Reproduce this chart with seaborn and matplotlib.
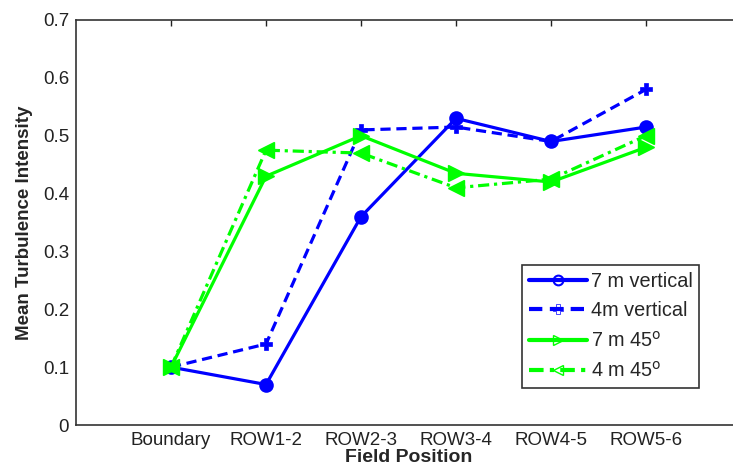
import matplotlib
matplotlib.use("Agg")
import matplotlib.pyplot as plt
import seaborn as sns
import pandas as pd

categories = ["Boundary", "ROW1-2", "ROW2-3", "ROW3-4", "ROW4-5", "ROW5-6"]
series_names = ["7 m vertical", "4m vertical", "7 m 45$^{\\rm o}$", "4 m 45$^{\\rm o}$"]
v_7m_vertical = [0.10, 0.07, 0.36, 0.53, 0.49, 0.515]
v_4m_vertical = [0.10, 0.14, 0.51, 0.515, 0.49, 0.58]
v_7m_45 = [0.10, 0.43, 0.50, 0.435, 0.42, 0.48]
v_4m_45 = [0.10, 0.475, 0.47, 0.41, 0.425, 0.50]
yticks = [0, 0.1, 0.2, 0.3, 0.4, 0.5, 0.6, 0.7]

sns.set_style("white")
plt.rcParams["font.family"] = ["Liberation Sans", "DejaVu Sans"]

W, H = 733, 473
fig = plt.figure(figsize=(W / 100, H / 100), dpi=100)
ax = fig.add_axes([76 / W, (H - 425) / H, (741 - 76) / W, (425 - 20) / H])

positions = list(range(1, len(categories) + 1))
styles = [
    dict(color="#0000ff", ls="-", marker="o", ms=9, mew=1.5),
    dict(color="#0000ff", ls=(0, (3.2, 1.8)), marker="P", ms=9, mew=0.5),
    dict(color="#00ff00", ls="-", marker=">", ms=11, mew=1),
    dict(color="#00ff00", ls=(0, (3.5, 1.5, 1, 1.5)), marker="<", ms=11, mew=1),
]
all_vals = [v_7m_vertical, v_4m_vertical, v_7m_45, v_4m_45]
for name, vals, st in zip(series_names, all_vals, styles):
    df = pd.DataFrame({"pos": positions, "val": vals})
    sns.lineplot(data=df, x="pos", y="val", ax=ax, label=name,
                 color=st["color"], linestyle=st["ls"], marker=st["marker"],
                 markersize=st["ms"], markeredgewidth=st["mew"],
                 markeredgecolor=st["color"], markerfacecolor=st["color"],
                 linewidth=2.3, estimator=None, sort=False)

ax.set_xlim(0, 7)
ax.set_ylim(0, 0.7)
ax.set_xticks(positions)
ax.set_xticklabels(categories)
ax.set_yticks(yticks)
ax.set_yticklabels([f"{t:g}" for t in yticks])
ax.tick_params(axis="both", direction="in", labelsize=13.5, length=4, width=1,
               color="#222222", labelcolor="#222222", top=True, right=False)
ax.tick_params(axis="x", pad=5)
ax.tick_params(axis="y", pad=5)
for s in ["left", "bottom", "top"]:
    ax.spines[s].set_color("#333333")
    ax.spines[s].set_linewidth(1.2)
ax.spines["right"].set_visible(False)

ax.set_xlabel("Field Position", fontsize=14, fontweight="bold", labelpad=0)
ax.set_ylabel("Mean Turbulence Intensity", fontsize=13.5, fontweight="bold", labelpad=7)

leg = ax.legend(loc="upper left", bbox_to_anchor=(522 / W, 1 - 265 / H),
                bbox_transform=fig.transFigure,
                fontsize=14.3, frameon=True, fancybox=False, edgecolor="black",
                handlelength=2.9, borderpad=0.35, labelspacing=0.52, handletextpad=0.2,
                borderaxespad=0)
leg.get_frame().set_linewidth(1.2)
for h in leg.legend_handles:
    h.set_markersize(7)
    h.set_markerfacecolor("none")
    h.set_linewidth(3)

fig.savefig("out.png", dpi=100)
